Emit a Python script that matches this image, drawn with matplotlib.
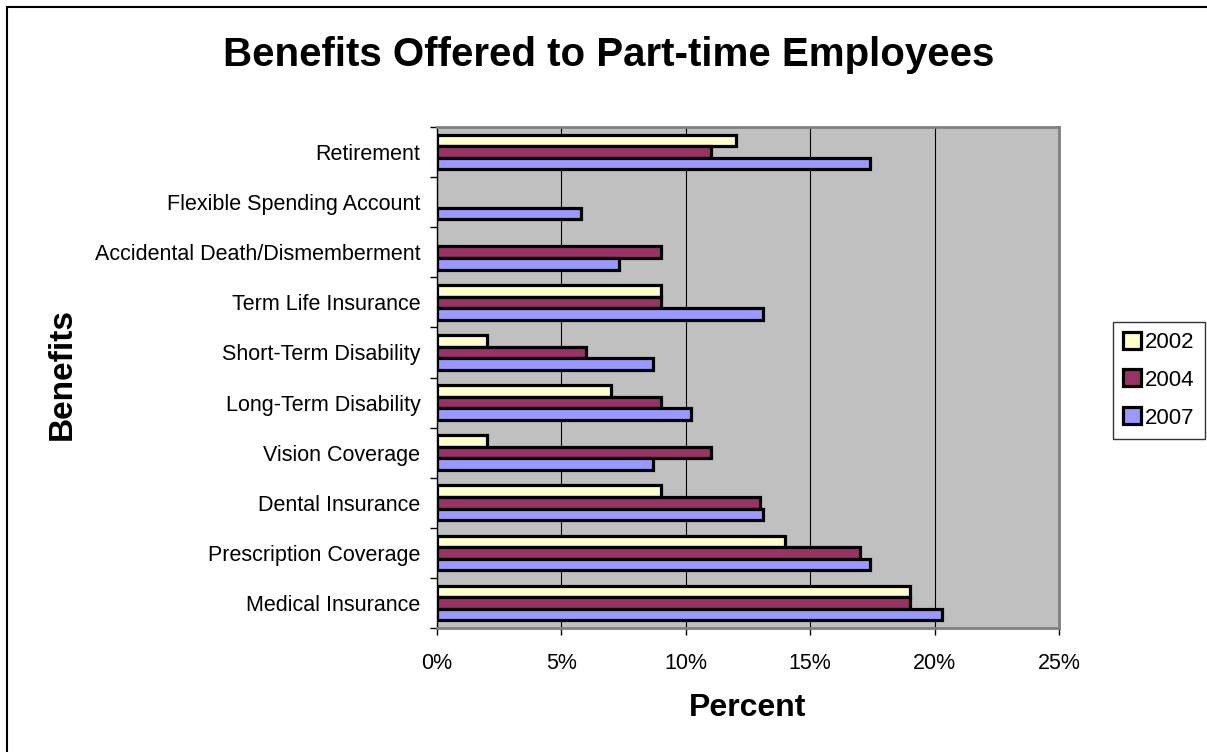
import numpy as np
import matplotlib.pyplot as plt
from matplotlib.patches import Rectangle
from matplotlib.ticker import FuncFormatter

plt.rcParams['font.family'] = ['Liberation Sans', 'DejaVu Sans']

# Categories listed bottom to top
benefits = ['Medical Insurance', 'Prescription Coverage', 'Dental Insurance',
            'Vision Coverage', 'Long-Term Disability', 'Short-Term Disability',
            'Term Life Insurance', 'Accidental Death/Dismemberment',
            'Flexible Spending Account', 'Retirement']
years = ['2002', '2004', '2007']
pct_2002 = [19, 14, 9, 2, 7, 2, 9, np.nan, np.nan, 12]
pct_2004 = [19, 17, 13, 11, 9, 6, 9, 9, np.nan, 11]
pct_2007 = [20.3, 17.4, 13.1, 8.7, 10.2, 8.7, 13.1, 7.3, 5.8, 17.4]
colors = ['#FFFFCC', '#993366', '#9999FF']

fig = plt.figure(figsize=(12.07, 7.52), dpi=100)
ax = fig.add_axes([437 / 1207, 1 - 628 / 752, 622 / 1207, 501 / 752])

# outer chart frame (only top/left fall inside the image)
fig.patches.append(Rectangle((6.5 / 1207, -0.05), 1.1, 1 - 6.5 / 752 + 0.05,
                             transform=fig.transFigure, fill=False,
                             edgecolor='black', linewidth=1.5))

y = np.arange(len(benefits))
h = 0.23
for i, (vals, c, lab) in enumerate(zip([pct_2002, pct_2004, pct_2007], colors, years)):
    ax.barh(y + (1 - i) * h, vals, height=h, color=c, edgecolor='black',
            linewidth=2.3, label=lab, zorder=3)

ax.set_facecolor('#C0C0C0')
ax.set_xlim(0, 25)
ax.set_ylim(-0.5, len(benefits) - 0.5)
ax.set_xticks(np.arange(0, 26, 5))
ax.xaxis.set_major_formatter(FuncFormatter(lambda v, p: f'{v:.0f}%'))
ax.grid(axis='x', color='black', linewidth=0.8, zorder=1)

ax.set_yticks(y)
ax.set_yticklabels(benefits)
ax.set_yticks(np.arange(-0.5, len(benefits)), minor=True)
ax.tick_params(axis='y', which='major', length=0, pad=12, labelsize=15.5)
ax.tick_params(axis='y', which='minor', length=5, width=1, direction='out')
ax.tick_params(axis='x', length=5, width=1, direction='out', pad=13, labelsize=15.5)

for s in ['top', 'right', 'bottom']:
    ax.spines[s].set_color('#808080')
    ax.spines[s].set_linewidth(2)
ax.spines['left'].set_color('black')
ax.spines['left'].set_linewidth(1)

fig.text(748 / 1207, 1 - 708 / 752, 'Percent', fontsize=23,
         fontweight='bold', ha='center', va='center')
fig.text(62 / 1207, 1 - 374 / 752, 'Benefits', rotation=90, fontsize=24,
         fontweight='bold', ha='center', va='center')
fig.text(609 / 1207, 1 - 55 / 752, 'Benefits Offered to Part-time Employees',
         fontsize=29, fontweight='bold', ha='center', va='center')

leg = ax.legend(loc='center left', bbox_to_anchor=(1113 / 1207, 1 - 380 / 752),
                bbox_transform=fig.transFigure, fontsize=16, frameon=True,
                fancybox=False, edgecolor='black', handlelength=0.8,
                handleheight=0.8, handletextpad=0.2, borderpad=0.45,
                labelspacing=0.75, borderaxespad=0)
leg.get_frame().set_linewidth(1)

fig.savefig('out.png', dpi=100)
